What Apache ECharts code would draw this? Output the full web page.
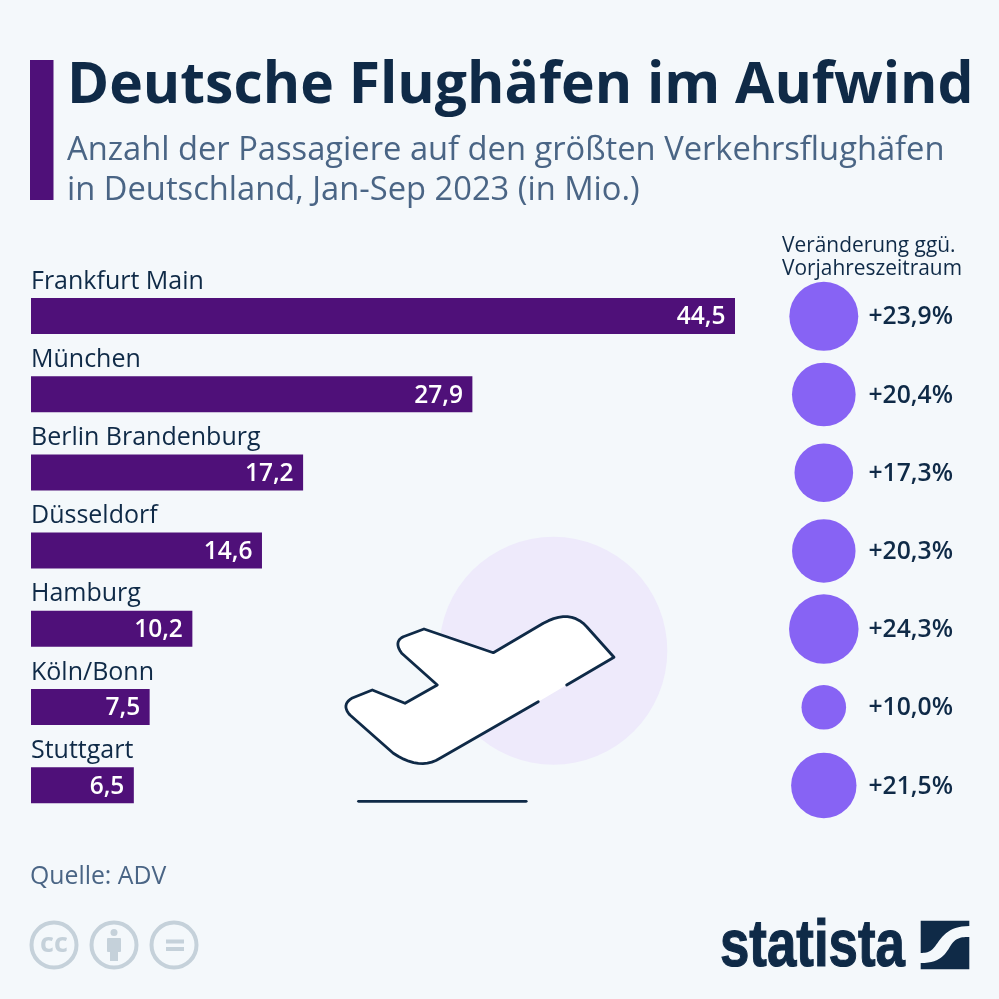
<!DOCTYPE html>
<html><head><meta charset="utf-8">
<style>html,body{margin:0;padding:0;background:#f4f8fb}#c{width:999px;height:999px}</style>
<script src="https://cdn.jsdelivr.net/npm/echarts@6/dist/echarts.min.js"></script>
</head><body><div id="c"></div>
<script>
const airports = ['Frankfurt Main','München','Berlin Brandenburg','Düsseldorf','Hamburg','Köln/Bonn','Stuttgart'];
const passengers = [44.5,27.9,17.2,14.6,10.2,7.5,6.5];
const changes = [23.9,20.4,17.3,20.3,24.3,10.0,21.5];
const titleText = 'Deutsche Flughäfen im Aufwind';
const subtitleText = 'Anzahl der Passagiere auf den größten Verkehrsflughäfen\nin Deutschland, Jan-Sep 2023 (in Mio.)';
const changeHeader = 'Veränderung ggü.\nVorjahreszeitraum';
const sourceText = 'Quelle: ADV';

const NAVY='#0f2a47', SLATE='#4a6585', PURPLE='#4f1079', BUBBLE='#8763f4', ICON='#c5d1da', BG='#f4f8fb';
const deComma = v => v.toFixed(1).replace('.',',');

function quad(a,c,b,n=10){const o=[];for(let i=1;i<=n;i++){const t=i/n,u=1-t;o.push([u*u*a[0]+2*u*t*c[0]+t*t*b[0],u*u*a[1]+2*u*t*c[1]+t*t*b[1]]);}return o;}
function cubic(a,c,d,b,n=14){const o=[];for(let i=1;i<=n;i++){const t=i/n,u=1-t;o.push([u*u*u*a[0]+3*u*u*t*c[0]+3*u*t*t*d[0]+t*t*t*b[0],u*u*u*a[1]+3*u*u*t*c[1]+3*u*t*t*d[1]+t*t*t*b[1]]);}return o;}

const plane = [[538.3,701.7],[440,758.3],
  ...quad([440,758.3],[420,771],[393.3,753.3]),
  [350,715],
  ...quad([350,715],[341,705],[351.7,698.3]),
  [372.3,690],[405,703.3],[437.3,685],[401.7,653.3],
  ...quad([401.7,653.3],[393.3,641.7],[403.3,636.7]),
  [424,629],[493.3,652.7],[543.3,623.3],
  ...quad([543.3,623.3],[570,608.3],[586.7,626.7]),
  [614,657.3],[566.7,685]];

const logoA=[[920.7,920.7],[969.3,920.7],[969.3,926],
  ...cubic([969.3,926],[950,926],[943,935],[936,945]),
  ...cubic([936,945],[932,951],[928,953],[920.7,953])];
const logoB=[[920.7,963],
  ...cubic([920.7,963],[940,963],[945,955],[951,945]),
  ...cubic([951,945],[956,938],[960,937],[969.3,937]),
  [969.3,969.3],[920.7,969.3]];

function txt(x,y,text,font,fill,extra={}){return {type:'text',x,y,z:5,style:Object.assign({text,font,fill,textVerticalAlign:'middle'},extra)};}
const sans='"Open Sans"';
const graphics=[
 {type:'rect',shape:{x:30,y:60,width:23.5,height:140},style:{fill:PURPLE}},
 txt(67,86.5,titleText,`bold 57px ${sans}`,NAVY),
 {type:'text',x:67,y:130.5,z:5,style:{text:subtitleText,font:`32.7px ${sans}`,fill:SLATE,lineHeight:40,textVerticalAlign:'top'}},
 {type:'text',x:782,y:235,z:5,style:{text:changeHeader,font:`20.9px ${sans}`,fill:NAVY,lineHeight:22.5,textVerticalAlign:'top'}},
 txt(30,877,sourceText,`24.8px ${sans}`,SLATE),
 {type:'circle',z:1,shape:{cx:553.3,cy:650.7,r:114},style:{fill:'#eeeafb'}},
 {type:'polygon',z:2,shape:{points:plane},style:{fill:'#ffffff'}},
 {type:'polyline',z:3,shape:{points:plane},style:{stroke:NAVY,lineWidth:2.8,fill:null,lineJoin:'round',lineCap:'round'}},
 {type:'line',z:3,shape:{x1:358.5,y1:801.3,x2:526.2,y2:801.3},style:{stroke:NAVY,lineWidth:2.8,lineCap:'round'}},
 ...[54,114,174].map(cx=>({type:'circle',shape:{cx,cy:945,r:22.5},style:{fill:null,stroke:ICON,lineWidth:4}})),
 txt(54,944,'cc',`bold 27px ${sans}`,ICON,{textAlign:'center'}),
 {type:'circle',shape:{cx:114,cy:932.5,r:3.5},style:{fill:ICON}},
 {type:'rect',shape:{x:107,y:938,width:14,height:14,r:1},style:{fill:ICON}},
 {type:'rect',shape:{x:110,y:950,width:8,height:11},style:{fill:ICON}},
 {type:'rect',shape:{x:166,y:939.5,width:18,height:4},style:{fill:ICON}},
 {type:'rect',shape:{x:166,y:947,width:18,height:4},style:{fill:ICON}},
 {type:'text',x:720,y:948,z:5,scaleX:0.8,style:{text:'statista',font:'bold 66px "Liberation Sans"',fill:NAVY,stroke:NAVY,lineWidth:1.2,textVerticalAlign:'middle'}},
 {type:'polygon',shape:{points:logoA},style:{fill:NAVY}},
 {type:'polygon',shape:{points:logoB},style:{fill:NAVY}}
];

const chart=echarts.init(document.getElementById('c'),null,{renderer:'canvas'});
chart.setOption({
 animation:false,
 backgroundColor:BG,
 textStyle:{fontFamily:'Open Sans'},
 graphic:{elements:graphics},
 grid:[
  {left:31,top:276.9,width:704,height:547.4,containLabel:false},
  {left:823.8,top:277.2,width:44.2,height:547.4}
 ],
 xAxis:[
  {gridIndex:0,type:'value',min:0,max:44.5,show:false},
  {gridIndex:1,type:'value',min:0,max:1,show:false}
 ],
 yAxis:[
  {gridIndex:0,type:'category',data:airports,inverse:true,
   axisLine:{show:false},axisTick:{show:false},splitLine:{show:false},
   axisLabel:{inside:true,margin:0,align:'left',verticalAlign:'bottom',padding:[0,0,22,0],
     fontSize:25,color:NAVY,fontFamily:'Open Sans',interval:0}},
  {gridIndex:1,type:'category',data:airports,inverse:true,show:false}
 ],
 series:[
  {type:'bar',xAxisIndex:0,yAxisIndex:0,data:passengers,barWidth:36,z:2,
   itemStyle:{color:PURPLE},
   label:{show:true,position:'insideRight',distance:9.5,offset:[0,1.5],color:'#fff',fontSize:24.5,fontWeight:600,fontFamily:'Open Sans',
     formatter:p=>deComma(p.value)}},
  {type:'scatter',xAxisIndex:1,yAxisIndex:1,clip:false,
   data:changes.map((v,i)=>[0,i]),
   symbolSize:(d,p)=>14.1*Math.sqrt(changes[p.dataIndex]),
   itemStyle:{color:BUBBLE,opacity:1}},
  {type:'scatter',xAxisIndex:1,yAxisIndex:1,clip:false,
   data:changes.map((v,i)=>[1,i]),
   symbolSize:1,itemStyle:{color:'rgba(0,0,0,0)',opacity:1},
   label:{show:true,position:'right',distance:0,offset:[0,1],color:NAVY,fontSize:24.7,fontWeight:600,fontFamily:'Open Sans',
     formatter:p=>'+'+deComma(changes[p.dataIndex])+'%'}}
 ]
});
</script></body></html>
